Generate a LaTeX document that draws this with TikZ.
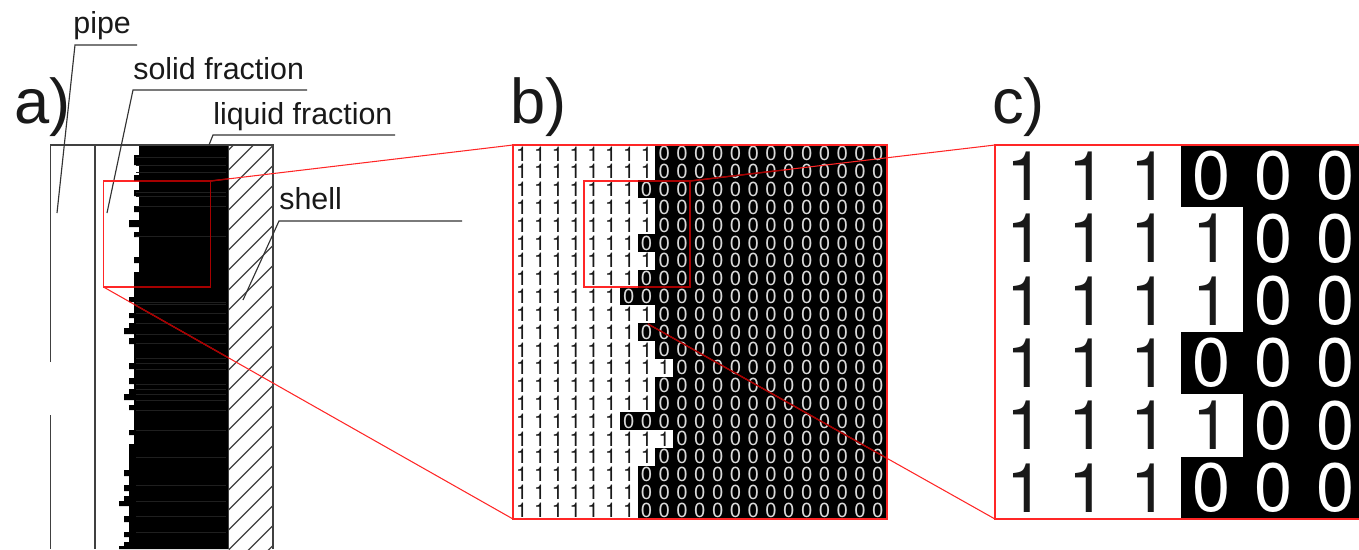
\documentclass[tikz,border=0pt]{standalone}
\usepackage{fontspec}
\setmainfont{Liberation Sans}
\newfontfamily\digitfont{TeX Gyre Heros}
\newcommand{\blackedge}{(228,145) -- (139,145) |- (134,155) |- (139,165) |- (134,175) |- (139,181) |- (134,190) |- (139,196) |- (134,206) |- (139,212) |- (129,220) |- (139,227) |- (134,232) |- (139,237) |- (134,257) |- (139,263) |- (134,272) |- (129,297) |- (134,302) |- (129,313) |- (134,318) |- (129,323) |- (124,328) |- (134,334) |- (129,338) |- (134,344) |- (129,363) |- (134,369) |- (129,378) |- (134,384) |- (129,389) |- (124,394) |- (134,400) |- (129,405) |- (134,410) |- (129,430) |- (134,435) |- (129,444) |- (124,470) |- (129,476) |- (124,485) |- (129,491) |- (124,496) |- (119,501) |- (129,506) |- (124,516) |- (129,522) |- (124,532) |- (129,537) |- (124,542) |- (119,546) |- (119,549) -- (228,549) -- cycle}
\tikzset{
  x=0.02cm,y=-0.02cm,
  wall/.style={draw=black!75,line width=0.75pt},
  hatchline/.style={draw=black!75,line width=0.75pt},
  leader/.style={draw=black!80,line width=0.65pt},
  faint/.style={draw=black!88,line width=0.3pt},
  redline/.style={draw=red!85!white,line width=0.6pt},
  darkred/.style={draw=red!65!black,line width=0.75pt},
  label/.style={anchor=base west,inner sep=0pt,font=\fontsize{17.3}{20}\selectfont,text=black!90},
  panel/.style={anchor=base west,inner sep=0pt,font=\fontsize{36}{40}\selectfont,text=black!90},
  smallone/.style={inner sep=0pt,font=\digitfont\fontsize{11.6}{12}\selectfont,text=black!90},
  smallzero/.style={inner sep=0pt,font=\digitfont\fontsize{11.6}{12}\selectfont,text=black!15},
  bigone/.style={inner sep=0pt,font=\digitfont\fontsize{39}{40}\selectfont,text=black!90},
  bigzero/.style={inner sep=0pt,font=\digitfont\fontsize{39}{40}\selectfont,text=white},
}
\begin{document}
\begin{tikzpicture}
\useasboundingbox (0,0) rectangle (1359,549);
% panel a: solid / liquid fill
\fill[black] \blackedge;
\foreach \yy in {157,165,172,192,196,206,236,302,304,313,323,334,343,358,363,369,384,389,394,400,410,430,457,485,501,516,532}
  \draw[faint] (136,\yy) -- (226,\yy);
% hatching
\begin{scope}
  \clip (228.5,145) rectangle (273,549);
  \foreach \yy in {150,170,...,610}
    \draw[hatchline] (228.5,\yy) -- (273,\yy-44.5);
\end{scope}
% walls
\draw[wall] (50.5,362) -- (50.5,145) -- (273,145) -- (273,549);
\draw[wall] (50.5,415) -- (50.5,549);
\draw[wall] (95,145) -- (95,549);
\draw[wall] (228.5,145) -- (228.5,549);
% panel labels
\node[panel] (pa) at (14,123) {a)};
\node[panel] (pb) at (510,123) {b)};
\node[panel] (pc) at (992,123) {c)};
% callouts
\node[label] (lpipe) at (73,33.5) {pipe};
\node[label] (lsolid) at (133,79) {solid fraction};
\node[label] (lliquid) at (213,124) {liquid fraction};
\node[label] (lshell) at (279,209) {shell};
\coordinate (p1) at (137,45); \coordinate (p2) at (75,45); \coordinate (p3) at (57,213);
\coordinate (s1) at (307,90); \coordinate (s2) at (133,90); \coordinate (s3) at (107,213);
\coordinate (q1) at (395,135); \coordinate (q2) at (213,135); \coordinate (q3) at (209,145);
\coordinate (h1) at (462,221); \coordinate (h2) at (279,221); \coordinate (h3) at (243,300);
\draw[leader] (p1) -- (p2) -- (p3);
\draw[leader] (s1) -- (s2) -- (s3);
\draw[leader] (q1) -- (q2) -- (q3);
\draw[leader] (h1) -- (h2) -- (h3);
% panel b cells
\foreach \n [count=\r] in {8,8,7,8,8,7,8,7,6,8,7,8,9,8,8,6,9,8,7,7,7} {
  \pgfmathsetmacro{\ytop}{145+(\r-1)*17.81}
  \pgfmathsetmacro{\ybot}{145+\r*17.81}
  \pgfmathsetmacro{\xl}{513+\n*17.8}
  \fill[black] (\xl,\ytop) rectangle (887,\ybot);
  \pgfmathsetmacro{\yc}{145+(\r-0.5)*17.81}
  \foreach \c in {1,...,21} {
    \pgfmathsetmacro{\xc}{513+(\c-0.5)*17.8}
    \ifnum\c>\n
      \node[smallzero] (b-\r-\c) at (\xc,\yc) {0};
    \else
      \node[smallone] (b-\r-\c) at (\xc,\yc) {1};
    \fi
  }
}
% panel c cells
\begin{scope}
\clip (0,0) rectangle (1359,549);
\foreach \n [count=\r] in {3,4,4,3,4,3} {
  \pgfmathsetmacro{\ytop}{145+(\r-1)*62.33}
  \pgfmathsetmacro{\ybot}{145+\r*62.33}
  \pgfmathsetmacro{\xl}{995+\n*62}
  \fill[black] (\xl,\ytop) rectangle (1359,\ybot);
  \pgfmathsetmacro{\yc}{145+(\r-0.5)*62.33}
  \foreach \c in {1,...,6} {
    \pgfmathsetmacro{\xc}{995+(\c-0.5)*62}
    \ifnum\c>\n
      \node[bigzero] (c-\r-\c) at (\xc,\yc) {0};
    \else
      \node[bigone] (c-\r-\c) at (\xc,\yc) {1};
    \fi
  }
}
\end{scope}
% red zoom frames
\coordinate (a1) at (103.5,181); \coordinate (a2) at (210.5,181);
\coordinate (a3) at (210.5,287); \coordinate (a4) at (103.5,287);
\coordinate (b1) at (513,145); \coordinate (b2) at (887,145);
\coordinate (b3) at (887,519); \coordinate (b4) at (513,519);
\coordinate (d1) at (584,181); \coordinate (d2) at (690,181);
\coordinate (d3) at (690,287); \coordinate (d4) at (584,287);
\coordinate (d5) at (648,324);
\coordinate (c1) at (995,145); \coordinate (c2) at (1359,145);
\coordinate (c3) at (1359,519); \coordinate (c4) at (995,519);
\draw[redline] (a1) -- (a2) -- (a3) -- (a4) -- cycle;
\draw[redline] (a2) -- (b1);
\draw[redline] (a4) -- (b4);
\draw[redline] (b1) -- (b2) -- (b3) -- (b4) -- cycle;
\draw[redline] (d1) -- (d2) -- (d3) -- (d4) -- cycle;
\draw[redline] (d2) -- (c1);
\draw[redline] (d5) -- (c4);
\draw[redline] (c2) -- (c1) -- (c4) -- (c3);
% the same red, dimmed where it crosses the black
\begin{scope}
  \clip \blackedge;
  \draw[darkred] (a1) -- (a2) -- (a3) -- (a4);
  \draw[darkred] (a2) -- (b1);
  \draw[darkred] (a4) -- (b4);
\end{scope}
\begin{scope}
  \clip (638,170) rectangle (886,300);
  \draw[darkred] (d1) -- (d2) -- (d3) -- (d4);
  \draw[darkred] (d2) -- (c1);
\end{scope}
\begin{scope}
  \clip (636,300) rectangle (886,519);
  \draw[darkred] (d5) -- (c4);
\end{scope}
\end{tikzpicture}
\end{document}
